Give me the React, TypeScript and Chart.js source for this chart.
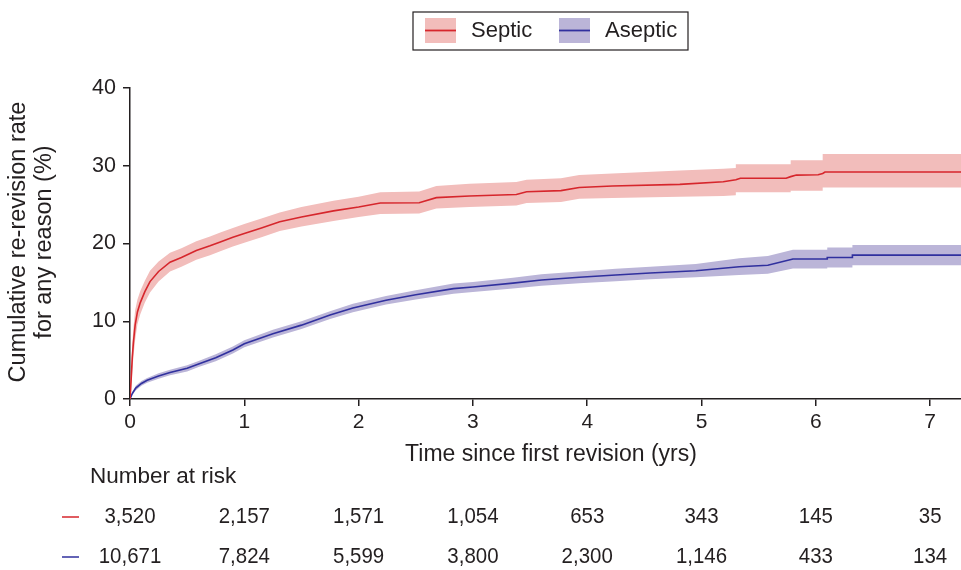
import React, { useEffect, useRef } from "react";
import { Chart, registerables } from "chart.js";

Chart.register(...registerables);

const septicTime = [0, 0.01, 0.02, 0.03, 0.045, 0.065, 0.09, 0.13, 0.175, 0.25, 0.35, 0.45, 0.58, 0.7, 0.79, 0.9, 1.0, 1.15, 1.31, 1.5, 1.78, 2.0, 2.19, 2.53, 2.68, 2.97, 3.38, 3.47, 3.77, 3.93, 4.22, 4.81, 5.19, 5.3, 5.3, 5.34, 5.74, 5.78, 5.78, 5.83, 6.02, 6.06, 6.06, 6.08, 7.27];
const septicRate = [0, 2.5, 5.3, 7.3, 9.5, 11.2, 12.4, 13.8, 15.1, 16.4, 17.6, 18.2, 19.1, 19.7, 20.2, 20.8, 21.3, 22.0, 22.8, 23.4, 24.2, 24.7, 25.2, 25.25, 25.9, 26.1, 26.3, 26.65, 26.8, 27.2, 27.4, 27.6, 27.95, 28.2, 28.2, 28.4, 28.4, 28.6, 28.6, 28.8, 28.85, 29.0, 29.0, 29.2, 29.2];
const septicLow = [0, 1.0, 3.5, 5.4, 7.6, 9.6, 10.9, 12.4, 13.7, 15.1, 16.4, 17.0, 17.9, 18.5, 19.0, 19.6, 20.1, 20.8, 21.6, 22.2, 22.9, 23.4, 23.8, 23.85, 24.5, 24.7, 24.9, 25.2, 25.35, 25.75, 25.85, 26.0, 26.1, 26.2, 26.6, 26.6, 26.6, 26.6, 26.8, 26.8, 26.8, 26.8, 27.2, 27.2, 27.2];
const septicHigh = [0, 4.0, 7.1, 9.2, 11.4, 12.8, 13.9, 15.2, 16.5, 17.7, 18.8, 19.4, 20.3, 20.9, 21.4, 22.0, 22.5, 23.2, 24.0, 24.7, 25.5, 26.0, 26.6, 26.7, 27.4, 27.7, 27.9, 28.2, 28.4, 28.8, 29.0, 29.4, 29.6, 29.7, 30.2, 30.2, 30.2, 30.2, 30.7, 30.7, 30.7, 30.7, 31.5, 31.5, 31.5];

const asepticTime = [0, 0.02, 0.05, 0.1, 0.15, 0.25, 0.35, 0.5, 0.6, 0.75, 0.9, 1.0, 1.25, 1.5, 1.75, 1.95, 2.24, 2.5, 2.83, 3.0, 3.35, 3.6, 3.93, 4.25, 4.55, 4.95, 5.33, 5.58, 5.8, 6.1, 6.1, 6.32, 6.32, 7.27];
const asepticRate = [0, 0.7, 1.4, 2.0, 2.4, 2.95, 3.4, 3.95, 4.5, 5.3, 6.3, 7.1, 8.4, 9.5, 10.8, 11.7, 12.7, 13.4, 14.2, 14.4, 14.9, 15.3, 15.65, 15.95, 16.2, 16.5, 17.0, 17.2, 18.0, 18.0, 18.2, 18.2, 18.5, 18.5];
const asepticLow = [0, 0.5, 1.1, 1.7, 2.1, 2.6, 3.05, 3.55, 4.1, 4.85, 5.85, 6.65, 7.9, 9.0, 10.3, 11.15, 12.15, 12.8, 13.55, 13.75, 14.2, 14.55, 14.9, 15.15, 15.4, 15.65, 15.95, 16.1, 16.8, 16.8, 16.9, 16.9, 17.2, 17.2];
const asepticHigh = [0, 0.9, 1.7, 2.3, 2.7, 3.3, 3.75, 4.35, 4.9, 5.75, 6.75, 7.55, 8.9, 10.0, 11.3, 12.25, 13.25, 14.0, 14.85, 15.05, 15.6, 16.05, 16.4, 16.75, 17.0, 17.35, 18.1, 18.4, 19.2, 19.2, 19.5, 19.5, 19.8, 19.8];

const riskYears = [0, 1, 2, 3, 4, 5, 6, 7];
const septicAtRisk = ["3,520", "2,157", "1,571", "1,054", "653", "343", "145", "35"];
const asepticAtRisk = ["10,671", "7,824", "5,599", "3,800", "2,300", "1,146", "433", "134"];

const seriesNames = ["Septic", "Aseptic"];
const yTitle = ["Cumulative re-revision rate", "for any reason (%)"];
const xTitle = "Time since first revision (yrs)";

const RED = "rgb(214,38,44)";
const RED_BAND = "rgb(242,189,187)";
const BLUE = "rgb(48,48,158)";
const BLUE_BAND = "rgb(187,181,216)";
const INK = "#231f20";
const FONT = "'Liberation Sans', Arial, sans-serif";

const pts = (xs: number[], ys: number[]) => xs.map((x, i) => ({ x, y: ys[i] }));

const decorPlugin = {
  id: "decor",
  afterDraw(chart: any) {
    const ctx = chart.ctx as CanvasRenderingContext2D;
    const xs = chart.scales.x;
    ctx.save();
    ctx.fillStyle = INK;
    ctx.textAlign = "center";
    ctx.textBaseline = "middle";
    // y title
    ctx.font = `23.5px ${FONT}`;
    const cy = 242;
    [19, 45].forEach((x, i) => {
      ctx.save();
      ctx.translate(x, cy);
      ctx.rotate(-Math.PI / 2);
      ctx.fillText(yTitle[i], 0, 0);
      ctx.restore();
    });
    // x title
    ctx.font = `23px ${FONT}`;
    ctx.fillText(xTitle, 551, 455);
    // number at risk
    ctx.font = `22.5px ${FONT}`;
    ctx.textAlign = "left";
    ctx.fillText("Number at risk", 90, 477);
    ctx.font = `22px ${FONT}`;
    ctx.textAlign = "center";
    const rows: [string[], string, number][] = [
      [septicAtRisk, RED, 517],
      [asepticAtRisk, BLUE, 557],
    ];
    rows.forEach(([vals, col, y]) => {
      ctx.strokeStyle = col;
      ctx.lineWidth = 1.5;
      ctx.beginPath();
      ctx.moveTo(62, y);
      ctx.lineTo(79, y);
      ctx.stroke();
      ctx.fillStyle = INK;
      vals.forEach((v, i) => {
        const px = xs.getPixelForValue(riskYears[i]);
        ctx.save();
        ctx.translate(px, y);
        ctx.scale(0.93, 1);
        ctx.fillText(v, 0, 0);
        ctx.restore();
      });
    });
    // legend
    ctx.strokeStyle = INK;
    ctx.lineWidth = 1.2;
    ctx.strokeRect(413, 12, 275, 38);
    const items: [string, string, string, number, number][] = [
      [seriesNames[0], RED_BAND, RED, 425, 471],
      [seriesNames[1], BLUE_BAND, BLUE, 559, 605],
    ];
    ctx.font = `22px ${FONT}`;
    ctx.textAlign = "left";
    items.forEach(([name, band, line, sx, tx]) => {
      ctx.fillStyle = band;
      ctx.fillRect(sx, 18, 31, 25);
      ctx.strokeStyle = line;
      ctx.lineWidth = 1.8;
      ctx.beginPath();
      ctx.moveTo(sx, 30.5);
      ctx.lineTo(sx + 31, 30.5);
      ctx.stroke();
      ctx.fillStyle = INK;
      ctx.fillText(name, tx, 31);
    });
    ctx.restore();
  },
};

export default function App() {
  const ref = useRef<HTMLCanvasElement>(null);
  useEffect(() => {
    document.body.style.margin = "0";
    const canvas = ref.current!;
    const bandDs = (label: string, xs: number[], ys: number[], color: string, fill: any) => ({
      label,
      data: pts(xs, ys),
      borderWidth: 0,
      borderColor: color,
      backgroundColor: color,
      pointRadius: 0,
      fill,
      order: 2,
      tension: 0,
    });
    const lineDs = (label: string, xs: number[], ys: number[], color: string) => ({
      label,
      data: pts(xs, ys),
      borderWidth: 1.6,
      borderColor: color,
      backgroundColor: color,
      pointRadius: 0,
      fill: false,
      order: 1,
      tension: 0,
    });
    const chart = new Chart(canvas, {
      type: "line",
      data: {
        datasets: [
          bandDs("Septic upper", septicTime, septicHigh, RED_BAND, "+1"),
          bandDs("Septic lower", septicTime, septicLow, RED_BAND, false),
          bandDs("Aseptic upper", asepticTime, asepticHigh, BLUE_BAND, "+1"),
          bandDs("Aseptic lower", asepticTime, asepticLow, BLUE_BAND, false),
          lineDs(seriesNames[0], septicTime, septicRate, RED),
          lineDs(seriesNames[1], asepticTime, asepticRate, BLUE),
        ] as any,
      },
      options: {
        animation: false,
        responsive: false,
        layout: { padding: { top: 88, left: 0, right: 0, bottom: 0 } },
        plugins: { legend: { display: false }, tooltip: { enabled: false } },
        scales: {
          x: {
            type: "linear",
            min: 0,
            max: 7.27,
            grid: { display: true, drawOnChartArea: false, drawTicks: true, tickLength: 7, color: INK, lineWidth: 1.5 },
            border: { display: true, color: INK, width: 1.5 },
            ticks: { stepSize: 1, includeBounds: false, color: INK, font: { family: FONT, size: 21 }, padding: 4, maxRotation: 0 },
            afterFit: (s: any) => { s.height = 171; },
          },
          y: {
            type: "linear",
            min: 0,
            max: 40,
            grid: { display: true, drawOnChartArea: false, drawTicks: true, tickLength: 7, color: INK, lineWidth: 1.5 },
            border: { display: true, color: INK, width: 1.5 },
            ticks: { stepSize: 10, color: INK, font: { family: FONT, size: 21.5 }, padding: 7 },
            afterFit: (s: any) => { s.width = 130; },
          },
        },
      } as any,
      plugins: [decorPlugin],
    });
    return () => chart.destroy();
  }, []);
  return (
    <div style={{ width: 961, height: 570, background: "#fff" }}>
      <canvas ref={ref} width={961} height={570} style={{ display: "block" }} />
    </div>
  );
}
